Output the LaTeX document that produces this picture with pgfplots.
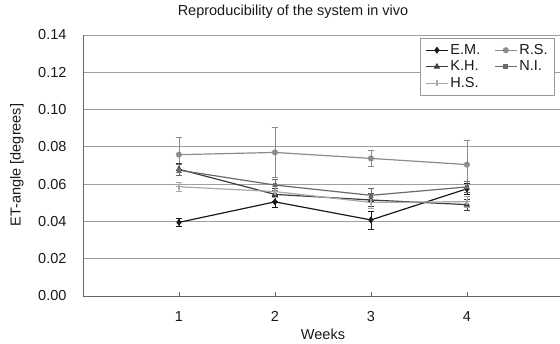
\documentclass[border=0pt]{standalone}
\usepackage{fontspec}
\setmainfont{Liberation Sans}
\usepackage{pgfplots}
\pgfplotsset{compat=1.18}
\newcommand\fs{\fontsize{14.5}{16.5}\selectfont}
\definecolor{cEM}{HTML}{1A1A1A}
\definecolor{cRS}{HTML}{8C8C8C}
\definecolor{cKH}{HTML}{3C3C3C}
\definecolor{cNI}{HTML}{6A6A6A}
\definecolor{cHS}{HTML}{A8A8A8}
\begin{document}
\begin{tikzpicture}
\path[use as bounding box] (0,0) rectangle (560pt,344pt);
\begin{axis}[
  at={(83pt,48pt)}, anchor=south west,
  scale only axis, width=477pt, height=261pt,
  xmin=0, xmax=4.97, ymin=0, ymax=0.14,
  axis lines*=left,
  axis line style={draw=gray!80!black, line width=0.8pt},
  xtick={1,2,3,4}, ytick={0,0.02,0.04,0.06,0.08,0.10,0.12,0.14},
  yticklabels={0.00,0.02,0.04,0.06,0.08,0.10,0.12,0.14},
  ytick style={draw=none},
  xtick style={draw=gray!80!black, line width=0.6pt},
  xtick pos=bottom, tick align=inside, major tick length=4pt,
  ymajorgrids, grid style={draw=gray!75, line width=0.8pt},
  /pgf/number format/assume math mode=true,
  tick label style={font=\fs, text=black!90},
  yticklabel style={xshift=-13pt},
  xticklabel style={yshift=-12pt},
  clip=false,
  legend columns=2,
  legend style={at={(axis description cs:0.9895,0.9885)}, anchor=north east,
    draw=gray!80, line width=0.8pt, fill=white, font=\fs, text=black!90,
    inner xsep=5pt, inner ysep=4pt, row sep=1pt,
    /tikz/every even column/.append style={column sep=12pt}},
  legend cell align=left,
  legend image code/.code={
    \draw[#1, line width=1.1pt] (0pt,0pt) -- (22pt,0pt);
    \draw[#1, only marks] plot coordinates {(11pt,0pt)};
  },
  every axis plot/.append style={line width=1.2pt,
    error bars/y dir=both, error bars/y explicit,
    error bars/error bar style={line width=0.6pt},
    error bars/error mark options={rotate=90, mark size=3pt, line width=0.6pt}},
]
\addplot[color=cEM, mark=diamond*, mark size=2.6pt] table[x=x, y=y, y error=e] {
x y e
1 0.0395 0.0022
2 0.0505 0.0030
3 0.0408 0.0048
4 0.0575 0.0030
};
\addlegendentry{E.M.}
\addplot[color=cRS, mark=*, mark size=2.4pt] table[x=x, y=y, y error=e] {
x y e
1 0.0758 0.0095
2 0.0770 0.0135
3 0.0738 0.0045
4 0.0705 0.0132
};
\addlegendentry{R.S.}
\addplot[color=cKH, mark=triangle*, mark size=2.6pt] table[x=x, y=y, y error=e] {
x y e
1 0.0680 0.0030
2 0.0545 0.0035
3 0.0515 0.0035
4 0.0490 0.0028
};
\addlegendentry{K.H.}
\addplot[color=cNI, mark=square*, mark size=1.8pt] table[x=x, y=y, y error=e] {
x y e
1 0.0675 0.0030
2 0.0595 0.0030
3 0.0540 0.0035
4 0.0585 0.0030
};
\addlegendentry{N.I.}
\addplot[color=cHS, mark=+, mark size=3pt] table[x=x, y=y, y error=e] {
x y e
1 0.0586 0.0025
2 0.0560 0.0030
3 0.0502 0.0030
4 0.0506 0.0030
};
\addlegendentry{H.S.}
\end{axis}
\node[font=\fs, text=black!90] at (293pt,332pt) {Reproducibility of the system in vivo};
\node[font=\fs, text=black!90] at (323pt,10pt) {Weeks};
\node[font=\fs, text=black!90, rotate=90] at (17pt,179pt) {ET-angle [degrees]};
\end{tikzpicture}
\end{document}
